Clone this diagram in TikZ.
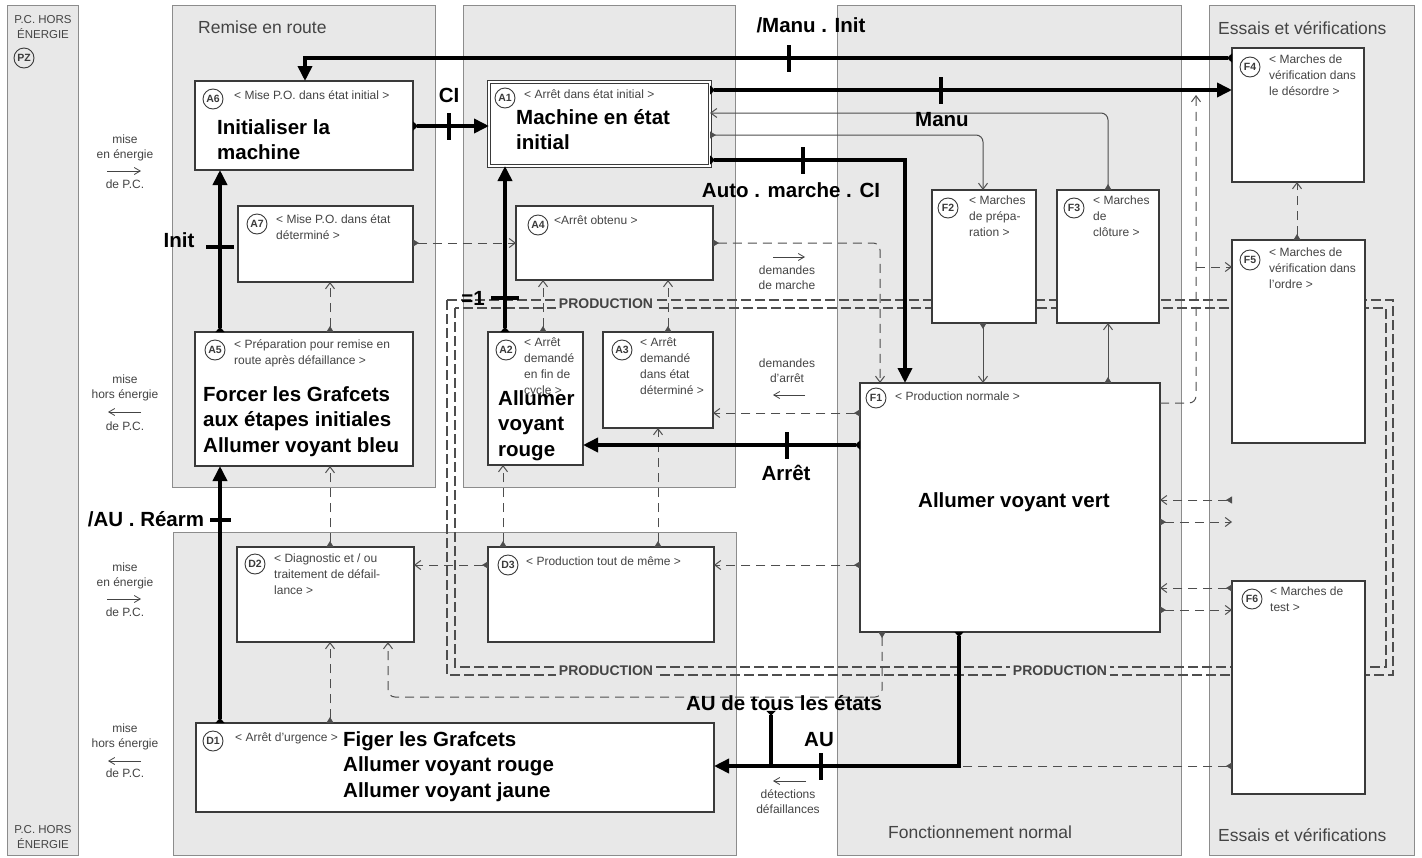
\documentclass[tikz,border=0pt]{standalone}
\usepackage{fontspec}
\setmainfont{Liberation Sans}
\usetikzlibrary{arrows.meta,calc}
\definecolor{panelfill}{HTML}{E8E8E8}
\definecolor{panelline}{HTML}{8C8C8C}
\definecolor{boxline}{HTML}{3A3A3A}
\definecolor{graytxt}{HTML}{444444}
\definecolor{connline}{HTML}{4E4E4E}
\tikzset{
  panel/.style={draw=panelline, fill=panelfill, line width=1pt, anchor=north west, inner sep=0pt, outer sep=0pt},
  box/.style={draw=boxline, fill=white, line width=1.5pt, anchor=north west, inner sep=0pt, outer sep=0pt},
  circ/.style={circle, draw=boxline, line width=0.9pt, inner sep=0pt, minimum size=20pt, text=boxline, font=\bfseries\fontsize{10.5}{10.5}\selectfont},
  small/.style={anchor=north west, align=left, inner sep=0pt, text=graytxt, font=\fontsize{12}{16}\selectfont, execute at begin node=\rule{0pt}{11pt}},
  big/.style={anchor=north west, align=left, inner sep=0pt, font=\bfseries\fontsize{20.5}{25.5}\selectfont, execute at begin node=\rule{0pt}{19pt}},
  cond/.style={inner sep=0pt, font=\bfseries\fontsize{20.5}{20.5}\selectfont},
  ptitle/.style={anchor=west, inner sep=0pt, text=graytxt, font=\fontsize{17.5}{17.5}\selectfont},
  side/.style={align=center, inner sep=0pt, text=graytxt, font=\fontsize{12}{15}\selectfont},
  sidearr/.style={draw=graytxt, line width=0.8pt, -{Straight Barb[length=6pt,width=7pt]}},
  thickarr/.style={line width=3.6pt, {Triangle[reversed,length=5pt,width=9pt]}-{Triangle[length=15pt,width=14pt]}},
  thickline/.style={line width=3.6pt},
  tickv/.style={fill=black, inner sep=0pt, minimum width=3.6pt, minimum height=27pt},
  tickh/.style={fill=black, inner sep=0pt, minimum width=28pt, minimum height=3.6pt},
  thinarr/.style={draw=connline, line width=1pt, {Triangle[reversed,length=6pt,width=7pt]}-{Straight Barb[length=6pt,width=9pt]}},
  dasharr/.style={thinarr, dash pattern=on 9pt off 6pt},
  dashto/.style={draw=connline, line width=1pt, dash pattern=on 9pt off 6pt, -{Straight Barb[length=6pt,width=9pt]}},
  dashstart/.style={draw=connline, line width=1pt, dash pattern=on 9pt off 6pt, {Triangle[reversed,length=6pt,width=7pt]}-},
  prod/.style={draw=connline, line width=1.1pt, dash pattern=on 10pt off 4pt},
  prodlbl/.style={fill=panelfill, inner sep=3pt, text=graytxt, font=\bfseries\fontsize{14}{14}\selectfont},
}
\begin{document}
\begin{tikzpicture}[x=1pt,y=-1pt]
\useasboundingbox (0,0) rectangle (1422,857);
\fill[white] (0,0) rectangle (1422,857);
% ---------- panels
\node[panel, minimum width=71pt, minimum height=850pt] (pPZ) at (7,5) {};
\node[panel, minimum width=263pt, minimum height=482pt] (pRR) at (172,5) {};
\node[panel, minimum width=272pt, minimum height=482pt] (pAR) at (463,5) {};
\node[panel, minimum width=563pt, minimum height=323pt] (pDF) at (173,532) {};
\node[panel, minimum width=344pt, minimum height=850pt] (pFN) at (837,5) {};
\node[panel, minimum width=205pt, minimum height=850pt] (pEV) at (1209,5) {};
\node[ptitle] (tRR) at (198,27) {Remise en route};
\node[ptitle] (tEV1) at (1218,28) {Essais et vérifications};
\node[ptitle] (tEV2) at (1218,835) {Essais et vérifications};
\node[ptitle] (tFN) at (888,832) {Fonctionnement normal};
\node[side, font=\fontsize{11.5}{14.5}\selectfont] (tPZ1) at (43,27) {P.C. HORS\\ÉNERGIE};
\node[circ] (cPZ) at (24,58) {PZ};
\node[side, font=\fontsize{11.5}{14.5}\selectfont] (tPZ2) at (43,837) {P.C. HORS\\ÉNERGIE};
% ---------- side labels
\node[side] (s1a) at (125,148) {mise\\en énergie};
\node[side] (s1b) at (125,184) {de P.C.};
\coordinate (s1l) at (107,171); \coordinate (s1r) at (141,171);
\draw[sidearr] (s1l) -- (s1r);
\node[side] (s2a) at (125,388) {mise\\hors énergie};
\node[side] (s2b) at (125,426) {de P.C.};
\coordinate (s2l) at (108,412); \coordinate (s2r) at (141,412);
\draw[sidearr] (s2r) -- (s2l);
\node[side] (s3a) at (125,576) {mise\\en énergie};
\node[side] (s3b) at (125,612) {de P.C.};
\coordinate (s3l) at (107,599); \coordinate (s3r) at (141,599);
\draw[sidearr] (s3l) -- (s3r);
\node[side] (s4a) at (125,737) {mise\\hors énergie};
\node[side] (s4b) at (125,773) {de P.C.};
\coordinate (s4l) at (108,761); \coordinate (s4r) at (141,761);
\draw[sidearr] (s4r) -- (s4l);
% middle labels
\node[side] (m1) at (787,278) {demandes\\de marche};
\coordinate (m1l) at (773,257); \coordinate (m1r) at (805,257);
\draw[sidearr] (m1l) -- (m1r);
\node[side] (m2) at (787,371) {demandes\\d'arrêt};
\coordinate (m2l) at (773,395); \coordinate (m2r) at (805,395);
\draw[sidearr] (m2r) -- (m2l);
\node[side] (m3) at (788,802) {détections\\défaillances};
\coordinate (m3l) at (773,781); \coordinate (m3r) at (806,781);
\draw[sidearr] (m3r) -- (m3l);
% ---------- production loop
\draw[prod] (447,300) rectangle (1393,675);
\draw[prod] (455,308) rectangle (1386,667);
\node[prodlbl] (pr1) at (606,304) {PRODUCTION};
\node[prodlbl] (pr2) at (606,671) {PRODUCTION};
\node[prodlbl] (pr3) at (1060,671) {PRODUCTION};
% ---------- boxes
\node[box, minimum width=218pt, minimum height=89pt] (A6) at (195,81) {};
\node[box, minimum width=175pt, minimum height=76pt] (A7) at (238,206) {};
\node[box, minimum width=218pt, minimum height=134pt] (A5) at (195,332) {};
\node[box, line width=1pt, double=white, double distance=2pt, minimum width=221pt, minimum height=84pt] (A1) at (489,82) {};
\node[box, minimum width=197pt, minimum height=74pt] (A4) at (516,206) {};
\node[box, minimum width=95pt, minimum height=133pt] (A2) at (488,332) {};
\node[box, minimum width=110pt, minimum height=96pt] (A3) at (603,332) {};
\node[box, minimum width=177pt, minimum height=95pt] (D2) at (237,547) {};
\node[box, minimum width=226pt, minimum height=95pt] (D3) at (488,547) {};
\node[box, minimum width=518pt, minimum height=89pt] (D1) at (196,723) {};
\node[box, minimum width=300pt, minimum height=249pt] (F1) at (860,383) {};
\node[box, minimum width=104pt, minimum height=133pt] (F2) at (932,190) {};
\node[box, minimum width=102pt, minimum height=133pt] (F3) at (1057,190) {};
\node[box, minimum width=132pt, minimum height=134pt] (F4) at (1232,48) {};
\node[box, minimum width=133pt, minimum height=203pt] (F5) at (1232,240) {};
\node[box, minimum width=133pt, minimum height=213pt] (F6) at (1232,581) {};
% circles
\node[circ] (cA6) at (213,99) {A6};
\node[circ] (cA7) at (257,224) {A7};
\node[circ] (cA5) at (215,350) {A5};
\node[circ] (cA1) at (505,98) {A1};
\node[circ] (cA4) at (538,225) {A4};
\node[circ] (cA2) at (506,350) {A2};
\node[circ] (cA3) at (622,350) {A3};
\node[circ] (cD2) at (255,564) {D2};
\node[circ] (cD3) at (508,565) {D3};
\node[circ] (cD1) at (213,741) {D1};
\node[circ] (cF1) at (876,398) {F1};
\node[circ] (cF2) at (948,208) {F2};
\node[circ] (cF3) at (1074,208) {F3};
\node[circ] (cF4) at (1250,67) {F4};
\node[circ] (cF5) at (1250,260) {F5};
\node[circ] (cF6) at (1252,599) {F6};
% small texts
\node[small] (tA6) at (234,88) {< Mise P.O. dans état initial >};
\node[small] (tA7) at (276,214) {< Mise P.O. dans état\\déterminé >};
\node[small] (tA5) at (234,339) {< Préparation pour remise en\\route après défaillance >};
\node[small] (tA1) at (524,87) {< Arrêt dans état initial >};
\node[small] (tA4) at (554,213) {<Arrêt obtenu >};
\node[small] (tA2) at (524,338) {< Arrêt\\demandé\\en fin de\\cycle >};
\node[small] (tA3) at (640,338) {< Arrêt\\demandé\\dans état\\déterminé >};
\node[small] (tD2) at (274,554) {< Diagnostic et / ou\\traitement de défail-\\lance >};
\node[small] (tD3) at (526,554) {< Production tout de même >};
\node[small] (tD1) at (235,730) {< Arrêt d'urgence >};
\node[small] (tF1) at (895,389) {< Production normale >};
\node[small] (tF2) at (969,196) {< Marches\\de prépa-\\ration >};
\node[small] (tF3) at (1093,196) {< Marches\\de\\clôture >};
\node[small] (tF4) at (1269,55) {< Marches de\\vérification dans\\le désordre >};
\node[small] (tF5) at (1269,248) {< Marches de\\vérification dans\\l'ordre >};
\node[small] (tF6) at (1270,587) {< Marches de\\test >};
% big texts
\node[big] (bA6) at (217,119) {Initialiser la\\machine};
\node[big] (bA1) at (516,109) {Machine en état\\initial};
\node[big] (bA5) at (203,386) {Forcer les Grafcets\\aux étapes initiales\\Allumer voyant bleu};
\node[big] (bA2) at (498,390) {Allumer\\voyant\\rouge};
\node[big] (bD1) at (343,731) {Figer les Grafcets\\Allumer voyant rouge\\Allumer voyant jaune};
\node[big] (bF1) at (918,488) {Allumer voyant vert};
% ---------- thin connectors
\draw[thinarr, rounded corners=7pt] (F3.north -| 1108,0) -- (1108,113) -- (A1.east |- 0,113);
\draw[thinarr, rounded corners=7pt] (A1.east |- 0,135) -- (983,135) -- (F2.north -| 983,0);
\draw[thinarr] (F2.south -| 983,0) -- (F1.north -| 983,0);
\draw[thinarr] (F1.north -| 1108,0) -- (F3.south -| 1108,0);
% ---------- dashed connectors
\draw[dasharr] (A7.east |- 0,243) -- (A4.west |- 0,243);
\draw[dasharr, rounded corners=7pt] (A4.east |- 0,243) -- (880,243) -- (F1.north -| 880,0);
\draw[dasharr] (A5.north -| 330,0) -- (A7.south -| 330,0);
\draw[dasharr] (D2.north -| 330,0) -- (A5.south -| 330,0);
\draw[dasharr] (D1.north -| 330,0) -- (D2.south -| 330,0);
\draw[dasharr] (A2.north -| 543,0) -- (A4.south -| 543,0);
\draw[dasharr] (A3.north -| 668,0) -- (A4.south -| 668,0);
\draw[dasharr] (D3.north -| 503,0) -- (A2.south -| 503,0);
\draw[dasharr] (D3.north -| 658,0) -- (A3.south -| 658,0);
\draw[dasharr] (F1.west |- 0,413) -- (A3.east |- 0,413);
\draw[dasharr] (F1.west |- 0,565) -- (D3.east |- 0,565);
\draw[dasharr] (D3.west |- 0,565) -- (D2.east |- 0,565);
\draw[dasharr, rounded corners=7pt] (F1.south -| 882,0) -- (882,697) -- (388,697) -- (D2.south -| 388,0);
\draw[dasharr] (F5.north -| 1297,0) -- (F4.south -| 1297,0);
\coordinate (jM) at (1196,95);
\coordinate (jF5) at (1196,267);
\draw[dashto, rounded corners=7pt] (F1.east |- 0,403) -- (1196,403) -- (jM);
\draw[dashto] (jF5) -- (F5.west |- jF5);
\draw[dasharr] (F5.west |- 0,500) -- (F1.east |- 0,500);
\draw[dasharr] (F1.east |- 0,522) -- (F5.west |- 0,522);
\draw[dasharr] (F6.west |- 0,588) -- (F1.east |- 0,588);
\draw[dasharr] (F1.east |- 0,610) -- (F6.west |- 0,610);
\coordinate (jAU) at (959,766);
\draw[dashstart] (F6.west |- jAU) -- (jAU);
% ---------- thick transitions
\draw[thickarr] (A6.east |- 0,126) -- (449,126) node[tickv] (k1) {} -- (A1.west |- 0,126);
\draw[thickarr] (F4.west |- 0,58) -- (789,58) node[tickv] (k2) {} -- (305,58) -- (A6.north -| 305,0);
\draw[thickarr] (A1.east |- 0,90) -- (941,90) node[tickv] (k3) {} -- (F4.west |- 0,90);
\draw[thickarr] (A1.east |- 0,160) -- (803,160) node[tickv] (k4) {} -- (905,160) -- (F1.north -| 905,0);
\draw[thickarr] (A5.north -| 220,0) -- (220,247) node[tickh] (k5) {} -- (A6.south -| 220,0);
\draw[thickarr] (D1.north -| 220,0) -- (220,520) node[tickh, minimum width=21pt] (k6) {} -- (A5.south -| 220,0);
\draw[thickarr] (A2.north -| 505,0) -- (505,298) node[tickh] (k7) {} -- (A1.south -| 505,0);
\draw[thickarr] (F1.west |- 0,445) -- (787,445) node[tickv] (k8) {} -- (A2.east |- 0,445);
\draw[thickarr] (F1.south -| jAU) -- (jAU) -- (821,766) node[tickv] (k9) {} -- (D1.east |- jAU);
\coordinate (jAll) at (771,766);
% condition labels
\node[cond] (lMI) at (811,25) {/Manu . Init};
\node[cond] (lCI) at (449,95) {CI};
\node[cond] (lManu) at (942,120) {Manu};
\node[cond] (lAuto) at (791,190) {Auto . marche . CI};
\node[cond] (lInit) at (179,240) {Init};
\node[cond] (lAUR) at (146,519) {/AU . Réarm};
\node[cond] (lEq) at (473,298) {=1};
\node[cond] (lArr) at (786,473) {Arrêt};
\node[cond] (lAUall) at (784,703) {AU de tous les états};
\node[cond] (lAU) at (819,740) {AU};
\draw[thickline, {Triangle[reversed,length=5pt,width=9pt]}-] (lAUall.south -| jAll) -- (jAll);
\end{tikzpicture}
\end{document}
